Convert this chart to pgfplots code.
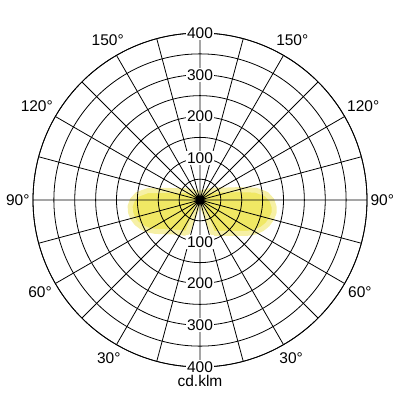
\documentclass[border=0pt]{standalone}
\usepackage{fontspec}
\setmainfont{Liberation Sans}
\usepackage{pgfplots}
\pgfplotsset{compat=1.18}
\usepgfplotslibrary{polar}

\definecolor{blobfill}{RGB}{240,232,100}
\definecolor{blobedge}{RGB}{246,240,165}

\begin{document}
\begin{tikzpicture}
\path[use as bounding box] (-200pt,-200pt) rectangle (200pt,200pt);
\begin{polaraxis}[
    at={(0,0)}, anchor=center,
    width=334pt, height=334pt, scale only axis,
    ymin=0, ymax=400,
    xtick={0,15,...,345},
    xticklabels={90°,{},120°,{},150°,{},{},{},150°,{},120°,{},90°,{},60°,{},30°,{},{},{},30°,{},60°,{}},
    ytick={50,100,...,400}, yticklabels={},
    grid=major,
    major grid style={black, line width=0.8pt},
    x axis line style={black, line width=0.8pt},
    y axis line style={draw=none},
    tick style={draw=none},
    axis on top,
    ticklabel style={font=\fontsize{15.5}{18}\selectfont},
]
% light distribution (angle in axis, cd/klm)
\addplot[fill=blobfill, draw=blobedge, line width=5pt, line join=round] coordinates {
    (-72,0) (-69,86) (-65,89) (-60,92) (-50,104) (-40,124) (-35,139)
    (-30,153) (-25,164) (-20,172) (-15,177) (-10,180) (-5,178) (0,172)
    (5,160) (10,136) (15,96) (20,70) (30,48) (45,32) (60,22) (90,16)
    (120,21) (135,30) (150,45) (160,66) (165,90) (170,128) (175,151)
    (180,162) (185,168) (190,169) (195,167) (200,162) (205,154) (210,144)
    (215,131) (220,118) (230,100) (240,90) (245,88) (249,84) (252,0)
} -- cycle;
\coordinate (u1) at (axis cs:90,100);
\coordinate (u2) at (axis cs:90,200);
\coordinate (u3) at (axis cs:90,300);
\coordinate (u4) at (axis cs:90,400);
\coordinate (d1) at (axis cs:270,100);
\coordinate (d2) at (axis cs:270,200);
\coordinate (d3) at (axis cs:270,300);
\coordinate (d4) at (axis cs:270,400);
\end{polaraxis}
\begin{scope}[every node/.style={fill=white, inner sep=1.5pt, font=\fontsize{15.5}{18}\selectfont}]
\foreach \p/\t in {u1/100,u2/200,u3/300,u4/400,d1/100,d2/200,d3/300,d4/400}
    \node at (\p) {\t};
\end{scope}
\node[font=\fontsize{15.5}{18}\selectfont] at (0,-181pt) {cd.klm};
\end{tikzpicture}
\end{document}
